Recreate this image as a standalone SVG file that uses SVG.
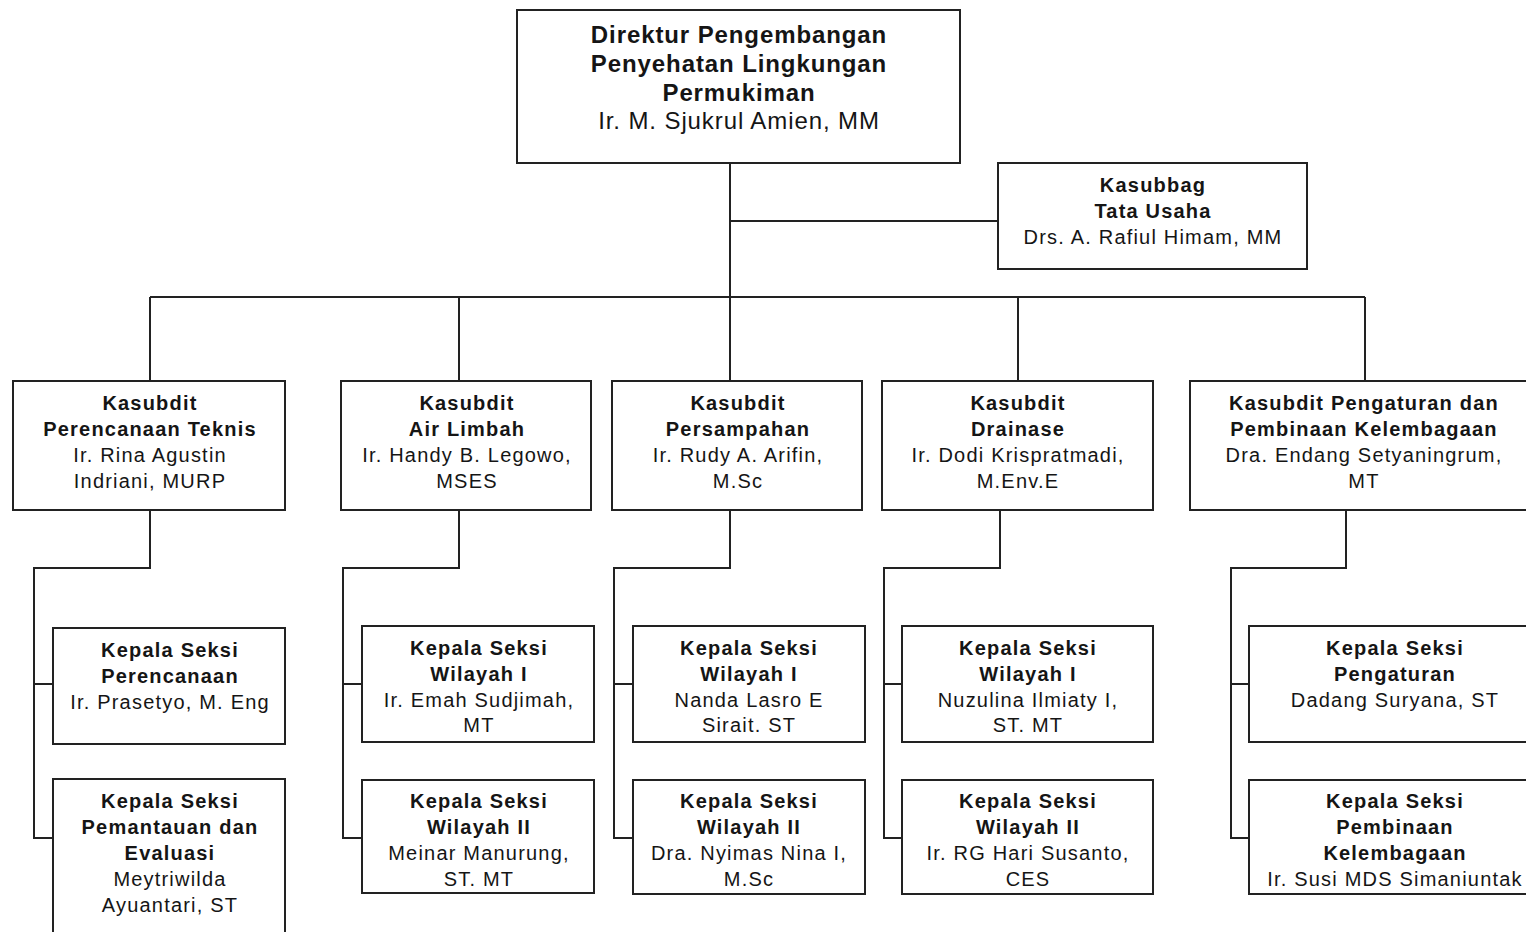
<svg xmlns="http://www.w3.org/2000/svg" width="1526" height="932" viewBox="0 0 1526 932">
<style>
.bx{fill:#fff;stroke:#222;stroke-width:2}
.ln{fill:none;stroke:#222;stroke-width:2}
text{font-family:"Liberation Sans",Arial,sans-serif;fill:#151515;text-anchor:middle}
.t{font-size:24px;letter-spacing:0.9px}
.s{font-size:20px;letter-spacing:1.2px}
.b{font-weight:bold}
</style>
<rect width="1526" height="932" fill="#fff"/>
<g id="connectors">
<path class="ln" d="M730,163V381M730,221H998M150,297H1365M150,297V381M459,297V381M1018,297V381M1365,297V381"/>
<path class="ln" d="M150,510V568H34V838H53M34,684H53"/>
<path class="ln" d="M459,510V568H343V838H362M343,684H362"/>
<path class="ln" d="M730,510V568H614V838H633M614,684H633"/>
<path class="ln" d="M1000,510V568H884V838H902M884,684H902"/>
<path class="ln" d="M1346,510V568H1231V838H1249M1231,684H1249"/>
</g>
<g id="direktur">
<rect class="bx" x="517" y="10" width="443" height="153"/>
<text class="t b" x="739" y="43">Direktur Pengembangan</text>
<text class="t b" x="739" y="72">Penyehatan Lingkungan</text>
<text class="t b" x="739" y="101">Permukiman</text>
<text class="t" x="739" y="129">Ir. M. Sjukrul Amien, MM</text>
</g>
<g id="kasubbag">
<rect class="bx" x="998" y="163" width="309" height="106"/>
<text class="s b" x="1153" y="192">Kasubbag</text>
<text class="s b" x="1153" y="218">Tata Usaha</text>
<text class="s" x="1153" y="244">Drs. A. Rafiul Himam, MM</text>
</g>
<g id="kasubdit-perencanaan">
<rect class="bx" x="13" y="381" width="272" height="129"/>
<text class="s b" x="150" y="410">Kasubdit</text>
<text class="s b" x="150" y="436">Perencanaan Teknis</text>
<text class="s" x="150" y="462">Ir. Rina Agustin</text>
<text class="s" x="150" y="488">Indriani, MURP</text>
</g>
<g id="kasubdit-airlimbah">
<rect class="bx" x="341" y="381" width="250" height="129"/>
<text class="s b" x="467" y="410">Kasubdit</text>
<text class="s b" x="467" y="436">Air Limbah</text>
<text class="s" x="467" y="462">Ir. Handy B. Legowo,</text>
<text class="s" x="467" y="488">MSES</text>
</g>
<g id="kasubdit-persampahan">
<rect class="bx" x="612" y="381" width="250" height="129"/>
<text class="s b" x="738" y="410">Kasubdit</text>
<text class="s b" x="738" y="436">Persampahan</text>
<text class="s" x="738" y="462">Ir. Rudy A. Arifin,</text>
<text class="s" x="738" y="488">M.Sc</text>
</g>
<g id="kasubdit-drainase">
<rect class="bx" x="882" y="381" width="271" height="129"/>
<text class="s b" x="1018" y="410">Kasubdit</text>
<text class="s b" x="1018" y="436">Drainase</text>
<text class="s" x="1018" y="462">Ir. Dodi Krispratmadi,</text>
<text class="s" x="1018" y="488">M.Env.E</text>
</g>
<g id="kasubdit-pengaturan">
<rect class="bx" x="1190" y="381" width="350" height="129"/>
<text class="s b" x="1364" y="410">Kasubdit Pengaturan dan</text>
<text class="s b" x="1364" y="436">Pembinaan Kelembagaan</text>
<text class="s" x="1364" y="462">Dra. Endang Setyaningrum,</text>
<text class="s" x="1364" y="488">MT</text>
</g>
<g id="seksi-perencanaan">
<rect class="bx" x="53" y="628" width="232" height="116"/>
<text class="s b" x="170" y="657">Kepala Seksi</text>
<text class="s b" x="170" y="683">Perencanaan</text>
<text class="s" x="170" y="709">Ir. Prasetyo, M. Eng</text>
</g>
<g id="seksi-pemantauan">
<rect class="bx" x="53" y="779" width="232" height="165"/>
<text class="s b" x="170" y="808">Kepala Seksi</text>
<text class="s b" x="170" y="834">Pemantauan dan</text>
<text class="s b" x="170" y="860">Evaluasi</text>
<text class="s" x="170" y="886">Meytriwilda</text>
<text class="s" x="170" y="912">Ayuantari, ST</text>
</g>
<g id="seksi-al-wil1">
<rect class="bx" x="362" y="626" width="232" height="116"/>
<text class="s b" x="479" y="655">Kepala Seksi</text>
<text class="s b" x="479" y="681">Wilayah I</text>
<text class="s" x="479" y="707">Ir. Emah Sudjimah,</text>
<text class="s" x="479" y="732">MT</text>
</g>
<g id="seksi-al-wil2">
<rect class="bx" x="362" y="780" width="232" height="113"/>
<text class="s b" x="479" y="808">Kepala Seksi</text>
<text class="s b" x="479" y="834">Wilayah II</text>
<text class="s" x="479" y="860">Meinar Manurung,</text>
<text class="s" x="479" y="886">ST. MT</text>
</g>
<g id="seksi-ps-wil1">
<rect class="bx" x="633" y="626" width="232" height="116"/>
<text class="s b" x="749" y="655">Kepala Seksi</text>
<text class="s b" x="749" y="681">Wilayah I</text>
<text class="s" x="749" y="707">Nanda Lasro E</text>
<text class="s" x="749" y="732">Sirait. ST</text>
</g>
<g id="seksi-ps-wil2">
<rect class="bx" x="633" y="780" width="232" height="114"/>
<text class="s b" x="749" y="808">Kepala Seksi</text>
<text class="s b" x="749" y="834">Wilayah II</text>
<text class="s" x="749" y="860">Dra. Nyimas Nina I,</text>
<text class="s" x="749" y="886">M.Sc</text>
</g>
<g id="seksi-dr-wil1">
<rect class="bx" x="902" y="626" width="251" height="116"/>
<text class="s b" x="1028" y="655">Kepala Seksi</text>
<text class="s b" x="1028" y="681">Wilayah I</text>
<text class="s" x="1028" y="707">Nuzulina Ilmiaty I,</text>
<text class="s" x="1028" y="732">ST. MT</text>
</g>
<g id="seksi-dr-wil2">
<rect class="bx" x="902" y="780" width="251" height="114"/>
<text class="s b" x="1028" y="808">Kepala Seksi</text>
<text class="s b" x="1028" y="834">Wilayah II</text>
<text class="s" x="1028" y="860">Ir. RG Hari Susanto,</text>
<text class="s" x="1028" y="886">CES</text>
</g>
<g id="seksi-pengaturan">
<rect class="bx" x="1249" y="626" width="291" height="116"/>
<text class="s b" x="1395" y="655">Kepala Seksi</text>
<text class="s b" x="1395" y="681">Pengaturan</text>
<text class="s" x="1395" y="707">Dadang Suryana, ST</text>
</g>
<g id="seksi-pembinaan">
<rect class="bx" x="1249" y="780" width="291" height="114"/>
<text class="s b" x="1395" y="808">Kepala Seksi</text>
<text class="s b" x="1395" y="834">Pembinaan</text>
<text class="s b" x="1395" y="860">Kelembagaan</text>
<text class="s" x="1395" y="886">Ir. Susi MDS Simaniuntak</text>
</g>
</svg>
